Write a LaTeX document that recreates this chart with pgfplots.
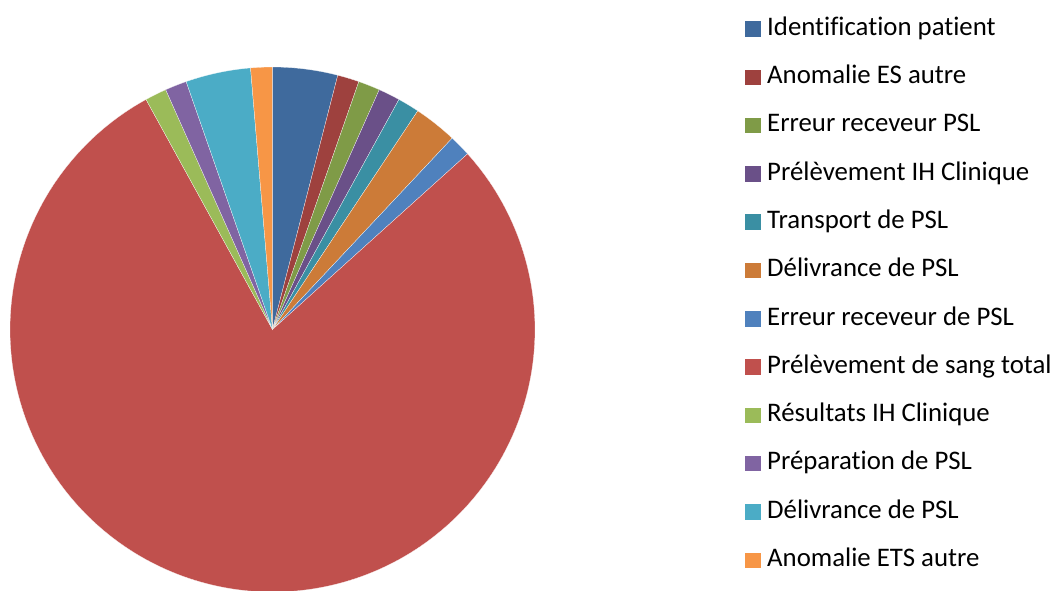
\documentclass[border=0pt]{standalone}
\usepackage{fontspec}
\setmainfont{Carlito}[Ligatures=NoCommon]
\usepackage{pgfplots}
\pgfplotsset{compat=1.18}
\usepackage{pgfplotstable}
\usepgfplotslibrary{polar}

\definecolor{pie0}{HTML}{3F6A9D}
\definecolor{pie1}{HTML}{9E413E}
\definecolor{pie2}{HTML}{7F9B47}
\definecolor{pie3}{HTML}{6A5088}
\definecolor{pie4}{HTML}{3A8FA3}
\definecolor{pie5}{HTML}{CC7B38}
\definecolor{pie6}{HTML}{4F81BD}
\definecolor{pie7}{HTML}{C0504D}
\definecolor{pie8}{HTML}{9BBB59}
\definecolor{pie9}{HTML}{8064A2}
\definecolor{pie10}{HTML}{4BACC6}
\definecolor{pie11}{HTML}{F79646}

\pgfplotstableread{
idx value
0 3
1 1
2 1
3 1
4 1
5 2
6 1
7 59
8 1
9 1
10 3
11 1
}\piedata

\begin{document}
\begin{tikzpicture}
\useasboundingbox (0,0) rectangle (1053pt,590pt);
\begin{polaraxis}[
  at={(272.5pt,260.5pt)}, anchor=origin,
  width=525pt, scale only axis,
  ymin=0, ymax=1, hide axis, clip=false,
  legend cell align=left,
  legend style={at={(1.4,1.0952)}, anchor=north west, draw=none, fill=none,
    inner sep=0pt, row sep=24.3pt,
    font=\fontsize{26.8}{30}\selectfont,
    nodes={inner sep=0pt, text height=18pt, text depth=6pt}},
  legend image code/.code={
    \fill[#1,draw=none] (0pt,-7.5pt) rectangle (15.5pt,8pt);
    \path[draw=none,fill=none] (0pt,0pt) -- (22pt,0pt);
  },
]
\pgfplotstablegetrowsof{\piedata}
\pgfmathtruncatemacro\nrows{\pgfplotsretval-1}
\def\total{0}
\pgfplotsforeachungrouped \i in {0,...,\nrows}{%
  \pgfplotstablegetelem{\i}{value}\of\piedata
  \pgfmathsetmacro\total{\total+\pgfplotsretval}%
}
\pgfmathsetmacro\unit{360/\total}
\def\cum{0}
\pgfplotsforeachungrouped \i in {0,...,\nrows}{%
  \pgfplotstablegetelem{\i}{value}\of\piedata
  \pgfmathsetmacro\a{90-\unit*\cum}%
  \pgfmathsetmacro\cum{\cum+\pgfplotsretval}%
  \pgfmathsetmacro\b{90-\unit*\cum}%
  \pgfmathtruncatemacro\ns{max(4,ceil(\a-\b)+1)}%
  \edef\doplot{\noexpand\addplot[fill=pie\i, draw=white, line width=0.2pt, domain=\b:\a, samples=\ns] {1} -- (axis cs:0,0) -- cycle;}%
  \doplot
}
\legend{Identification patient,Anomalie ES autre,Erreur receveur PSL,Prélèvement IH Clinique,Transport de PSL,Délivrance de PSL,Erreur receveur de PSL,Prélèvement de sang total,Résultats IH Clinique,Préparation de PSL,Délivrance de PSL,Anomalie ETS autre}
\end{polaraxis}
\end{tikzpicture}
\end{document}
